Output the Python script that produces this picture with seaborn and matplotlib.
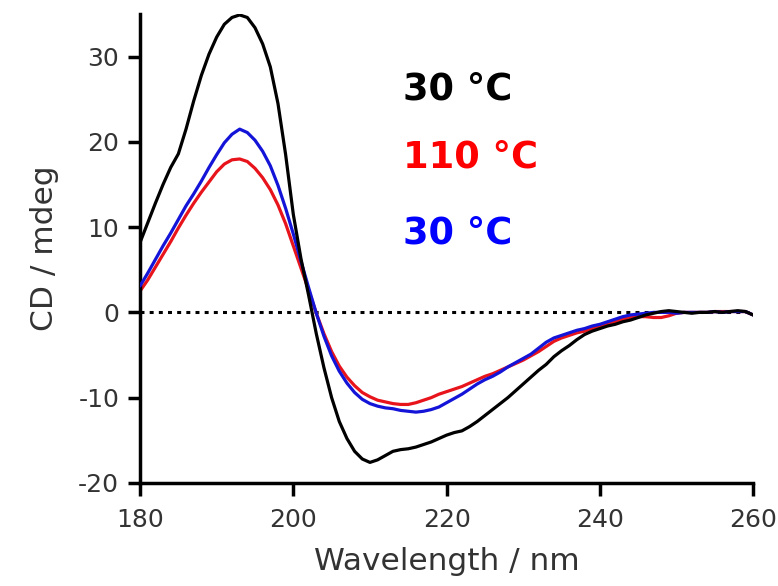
import numpy as np
import pandas as pd
import matplotlib
matplotlib.use("Agg")
import matplotlib.pyplot as plt
import seaborn as sns

# CD spectra: wavelength (nm) vs ellipticity (mdeg)
wavelength = list(range(180, 261))

cd_30c_before = [
    8.2, 10.5, 12.8, 15.0, 17.0, 18.6, 21.5, 24.8, 27.8, 30.3,
    32.3, 33.8, 34.6, 34.9, 34.6, 33.4, 31.5, 28.8, 24.5, 18.5,
    11.5, 6.3, 2.0, -2.5, -6.5, -10.0, -12.8, -14.8, -16.3, -17.2,
    -17.6, -17.3, -16.8, -16.3, -16.1, -16.0, -15.8, -15.5, -15.2, -14.8,
    -14.4, -14.1, -13.9, -13.4, -12.8, -12.1, -11.4, -10.7, -10.0, -9.2,
    -8.4, -7.6, -6.8, -6.1, -5.2, -4.5, -3.9, -3.2, -2.6, -2.2,
    -1.9, -1.6, -1.4, -1.1, -0.9, -0.6, -0.3, -0.1, 0.1, 0.2,
    0.1, 0.0, -0.1, 0.0, 0.0, 0.1, 0.0, 0.1, 0.2, 0.1,
    -0.3,
]

cd_110c = [
    2.5, 3.8, 5.3, 6.8, 8.3, 9.9, 11.4, 12.8, 14.1, 15.3,
    16.5, 17.4, 17.9, 18.0, 17.7, 16.9, 15.8, 14.4, 12.6, 10.4,
    7.8, 5.2, 2.6, -0.1, -2.5, -4.6, -6.3, -7.6, -8.6, -9.4,
    -9.9, -10.3, -10.5, -10.7, -10.8, -10.8, -10.6, -10.3, -10.0, -9.6,
    -9.3, -9.0, -8.7, -8.3, -7.9, -7.5, -7.2, -6.8, -6.4, -6.0,
    -5.6, -5.1, -4.6, -4.0, -3.4, -3.0, -2.7, -2.4, -2.2, -1.9,
    -1.6, -1.3, -1.1, -0.8, -0.6, -0.5, -0.5, -0.6, -0.6, -0.4,
    -0.1, 0.0, 0.0, 0.0, 0.0, 0.1, 0.1, 0.1, 0.1, 0.1,
    -0.3,
]

cd_30c_after = [
    3.1, 4.6, 6.2, 7.8, 9.3, 10.9, 12.5, 13.9, 15.4, 17.0,
    18.5, 19.9, 20.9, 21.5, 21.1, 20.2, 18.9, 17.2, 14.9, 12.2,
    9.2, 6.0, 2.9, -0.1, -2.8, -5.1, -6.9, -8.3, -9.4, -10.2,
    -10.7, -11.0, -11.2, -11.3, -11.5, -11.6, -11.7, -11.6, -11.4, -11.1,
    -10.6, -10.1, -9.6, -9.0, -8.4, -7.9, -7.5, -7.0, -6.4, -5.9,
    -5.4, -4.9, -4.2, -3.5, -3.0, -2.7, -2.4, -2.1, -1.9, -1.6,
    -1.4, -1.1, -0.8, -0.5, -0.3, -0.2, -0.1, 0.0, 0.0, 0.0,
    -0.1, 0.0, 0.0, 0.0, 0.0, 0.1, 0.0, 0.1, 0.1, 0.1,
    -0.3,
]

series_labels = ["30 °C", "110 °C", "30 °C"]
series_colors = ["#000000", "#ff0000", "#0000ff"]
line_colors = ["#000000", "#e8141c", "#1414d8"]

x_ticks = [180, 200, 220, 240, 260]
y_ticks = [-20, -10, 0, 10, 20, 30]

sns.set_style("ticks")
plt.rcParams["font.family"] = ["DejaVu Sans"]
plt.rcParams["axes.unicode_minus"] = False

fig = plt.figure(figsize=(7.78, 5.86), dpi=100)
ax = fig.add_axes([0.18, 0.176, 0.788, 0.80])

df = pd.DataFrame({
    "wl": wavelength,
    "before": cd_30c_before,
    "hot": cd_110c,
    "after": cd_30c_after,
})

# zero reference line
ax.plot([180, 260], [0, 0], color="black", lw=2.2,
        linestyle=(0, (1.3, 1.7)), zorder=1)

sns.lineplot(data=df, x="wl", y="hot", ax=ax, color=line_colors[1], lw=2.3, zorder=2)
sns.lineplot(data=df, x="wl", y="after", ax=ax, color=line_colors[2], lw=2.3, zorder=3)
sns.lineplot(data=df, x="wl", y="before", ax=ax, color=line_colors[0], lw=2.3, zorder=4)

ax.set_xlim(180, 260)
ax.set_ylim(-20, 35)
ax.set_xticks(x_ticks)
ax.set_yticks(y_ticks)

for side in ["top", "right"]:
    ax.spines[side].set_visible(False)
for side in ["left", "bottom"]:
    ax.spines[side].set_linewidth(2.5)
    ax.spines[side].set_color("black")

ax.tick_params(axis="x", direction="out", length=9, width=2.5, color="black",
               labelsize=18, labelcolor="#333333", pad=9)
ax.tick_params(axis="y", direction="out", length=9, width=2.5, color="black",
               labelsize=18, labelcolor="#333333", pad=6)

ax.set_xlabel("Wavelength / nm", fontsize=22.5, color="#333333", labelpad=11)
ax.set_ylabel("CD / mdeg", fontsize=22.5, color="#333333", labelpad=14)

# temperature annotations
W, H = 778, 586
baselines = [100, 168, 243]
for lab, col, yb in zip(series_labels, series_colors, baselines):
    fig.text(403 / W, 1 - yb / H, lab, color=col, fontsize=26.5,
             fontweight="bold", ha="left", va="baseline")

fig.savefig("out.png", dpi=100)
